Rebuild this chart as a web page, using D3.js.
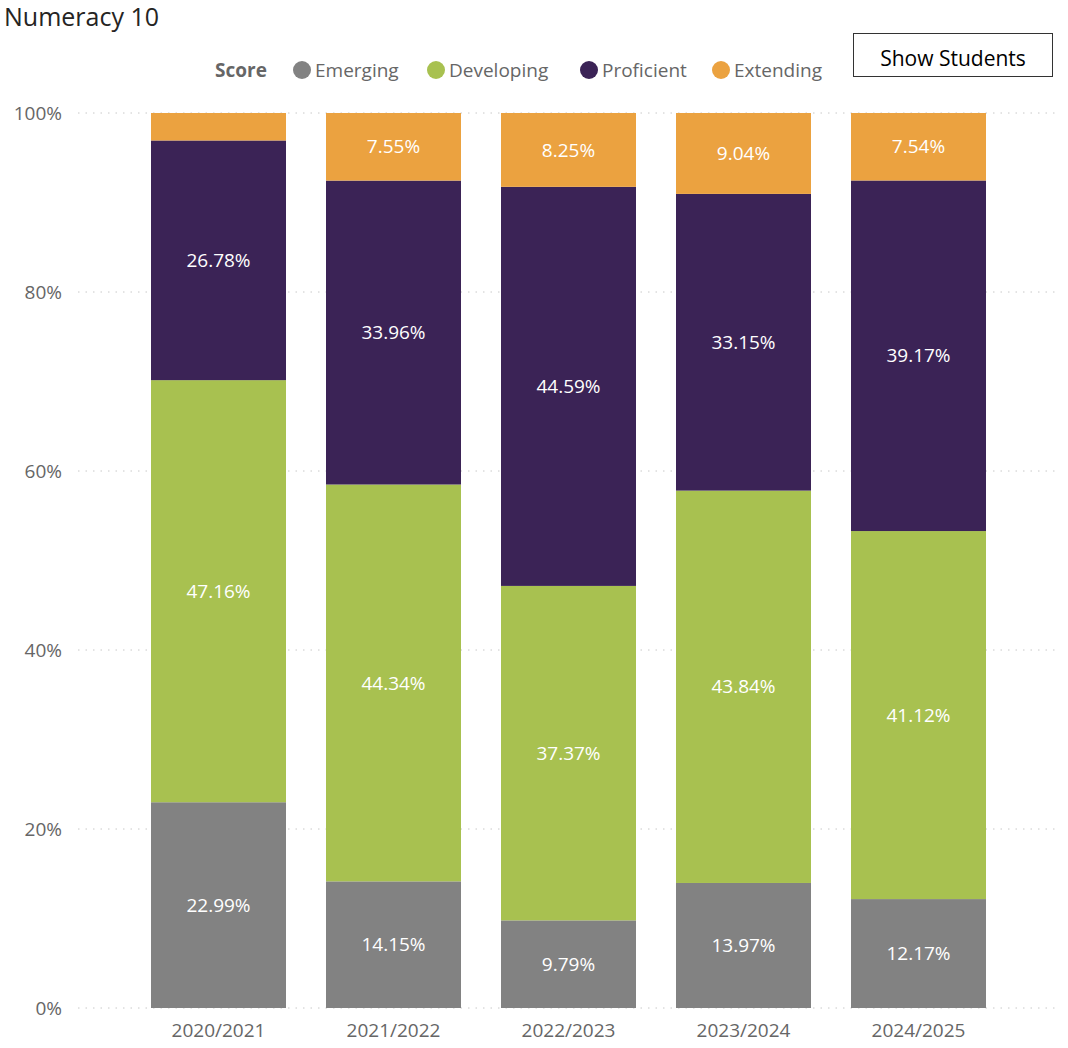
<!DOCTYPE html>
<html><head><meta charset="utf-8">
<script src="https://cdn.jsdelivr.net/npm/d3@7"></script>
<style>body{margin:0;background:#fff;font-family:"Open Sans","Noto Sans",sans-serif}</style>
</head><body><svg id="c" width="1068" height="1048"></svg>
<script>
const years = ["2020/2021", "2021/2022", "2022/2023", "2023/2024", "2024/2025"];
const scores = ["Emerging", "Developing", "Proficient", "Extending"];
const colors = ["#828282", "#a8c150", "#3b2356", "#eba240"];
const emerging = [22.99, 14.15, 9.79, 13.97, 12.17];
const developing = [47.16, 44.34, 37.37, 43.84, 41.12];
const proficient = [26.78, 33.96, 44.59, 33.15, 39.17];
const extending = [3.07, 7.55, 8.25, 9.04, 7.54];
const yTicks = [0, 20, 40, 60, 80, 100];

const svg = d3.select("#c");
const table = years.map((y, i) => ({year: y, Emerging: emerging[i], Developing: developing[i], Proficient: proficient[i], Extending: extending[i]}));
const series = d3.stack().keys(scores)(table);

const x = d3.scaleBand().domain(years).range([131, 1006]).paddingInner(40 / 175).paddingOuter(20 / 175);
const y = d3.scaleLinear().domain([0, 100]).range([1008, 113]);
const color = d3.scaleOrdinal().domain(scores).range(colors);

// title
svg.append("text").attr("x", 4).attr("y", 26).attr("font-size", 25).attr("fill", "#252423").text("Numeracy 10");

// gridlines + y labels
svg.append("g").selectAll("line").data(yTicks).join("line")
  .attr("x1", 78).attr("x2", 1056).attr("y1", d => y(d)).attr("y2", d => y(d))
  .attr("stroke", "#c8c8c8").attr("stroke-dasharray", "1.5,6");
svg.append("g").selectAll("text").data(yTicks).join("text")
  .attr("x", 62).attr("y", d => y(d)).attr("dy", "0.35em").attr("text-anchor", "end")
  .attr("font-size", 19).attr("fill", "#666").text(d => d + "%");

// bars
svg.append("g").selectAll("g").data(series).join("g").attr("fill", d => color(d.key))
  .selectAll("rect").data(d => d).join("rect")
  .attr("x", d => x(d.data.year)).attr("width", x.bandwidth())
  .attr("y", d => y(d[1])).attr("height", d => y(d[0]) - y(d[1]));

// labels
svg.append("g").selectAll("g").data(series).join("g")
  .selectAll("text").data(d => d.filter(p => p[1] - p[0] > 5)).join("text")
  .attr("x", d => x(d.data.year) + x.bandwidth() / 2)
  .attr("y", d => y((d[0] + d[1]) / 2)).attr("dy", "0.35em").attr("text-anchor", "middle")
  .attr("font-size", 19).attr("fill", "#fff")
  .text(d => (d[1] - d[0]).toFixed(2) + "%");

// x axis labels
svg.append("g").selectAll("text").data(years).join("text")
  .attr("x", d => x(d) + x.bandwidth() / 2).attr("y", 1037).attr("text-anchor", "middle")
  .attr("font-size", 19).attr("fill", "#666").text(d => d);

// legend
const lg = svg.append("g").attr("font-size", 19);
lg.append("text").attr("x", 215).attr("y", 77).attr("font-weight", "bold").attr("fill", "#666").text("Score");
const legX = [302, 436, 589, 721];
scores.forEach((s, i) => {
  lg.append("circle").attr("cx", legX[i]).attr("cy", 70).attr("r", 9).attr("fill", colors[i]);
  lg.append("text").attr("x", legX[i] + 13).attr("y", 77).attr("fill", "#666").text(s);
});

// button
svg.append("rect").attr("x", 853.5).attr("y", 33.5).attr("width", 199).attr("height", 43)
  .attr("fill", "#fff").attr("stroke", "#333");
svg.append("text").attr("x", 953).attr("y", 66).attr("text-anchor", "middle").attr("font-size", 21)
  .attr("fill", "#000").text("Show Students");
</script></body></html>
